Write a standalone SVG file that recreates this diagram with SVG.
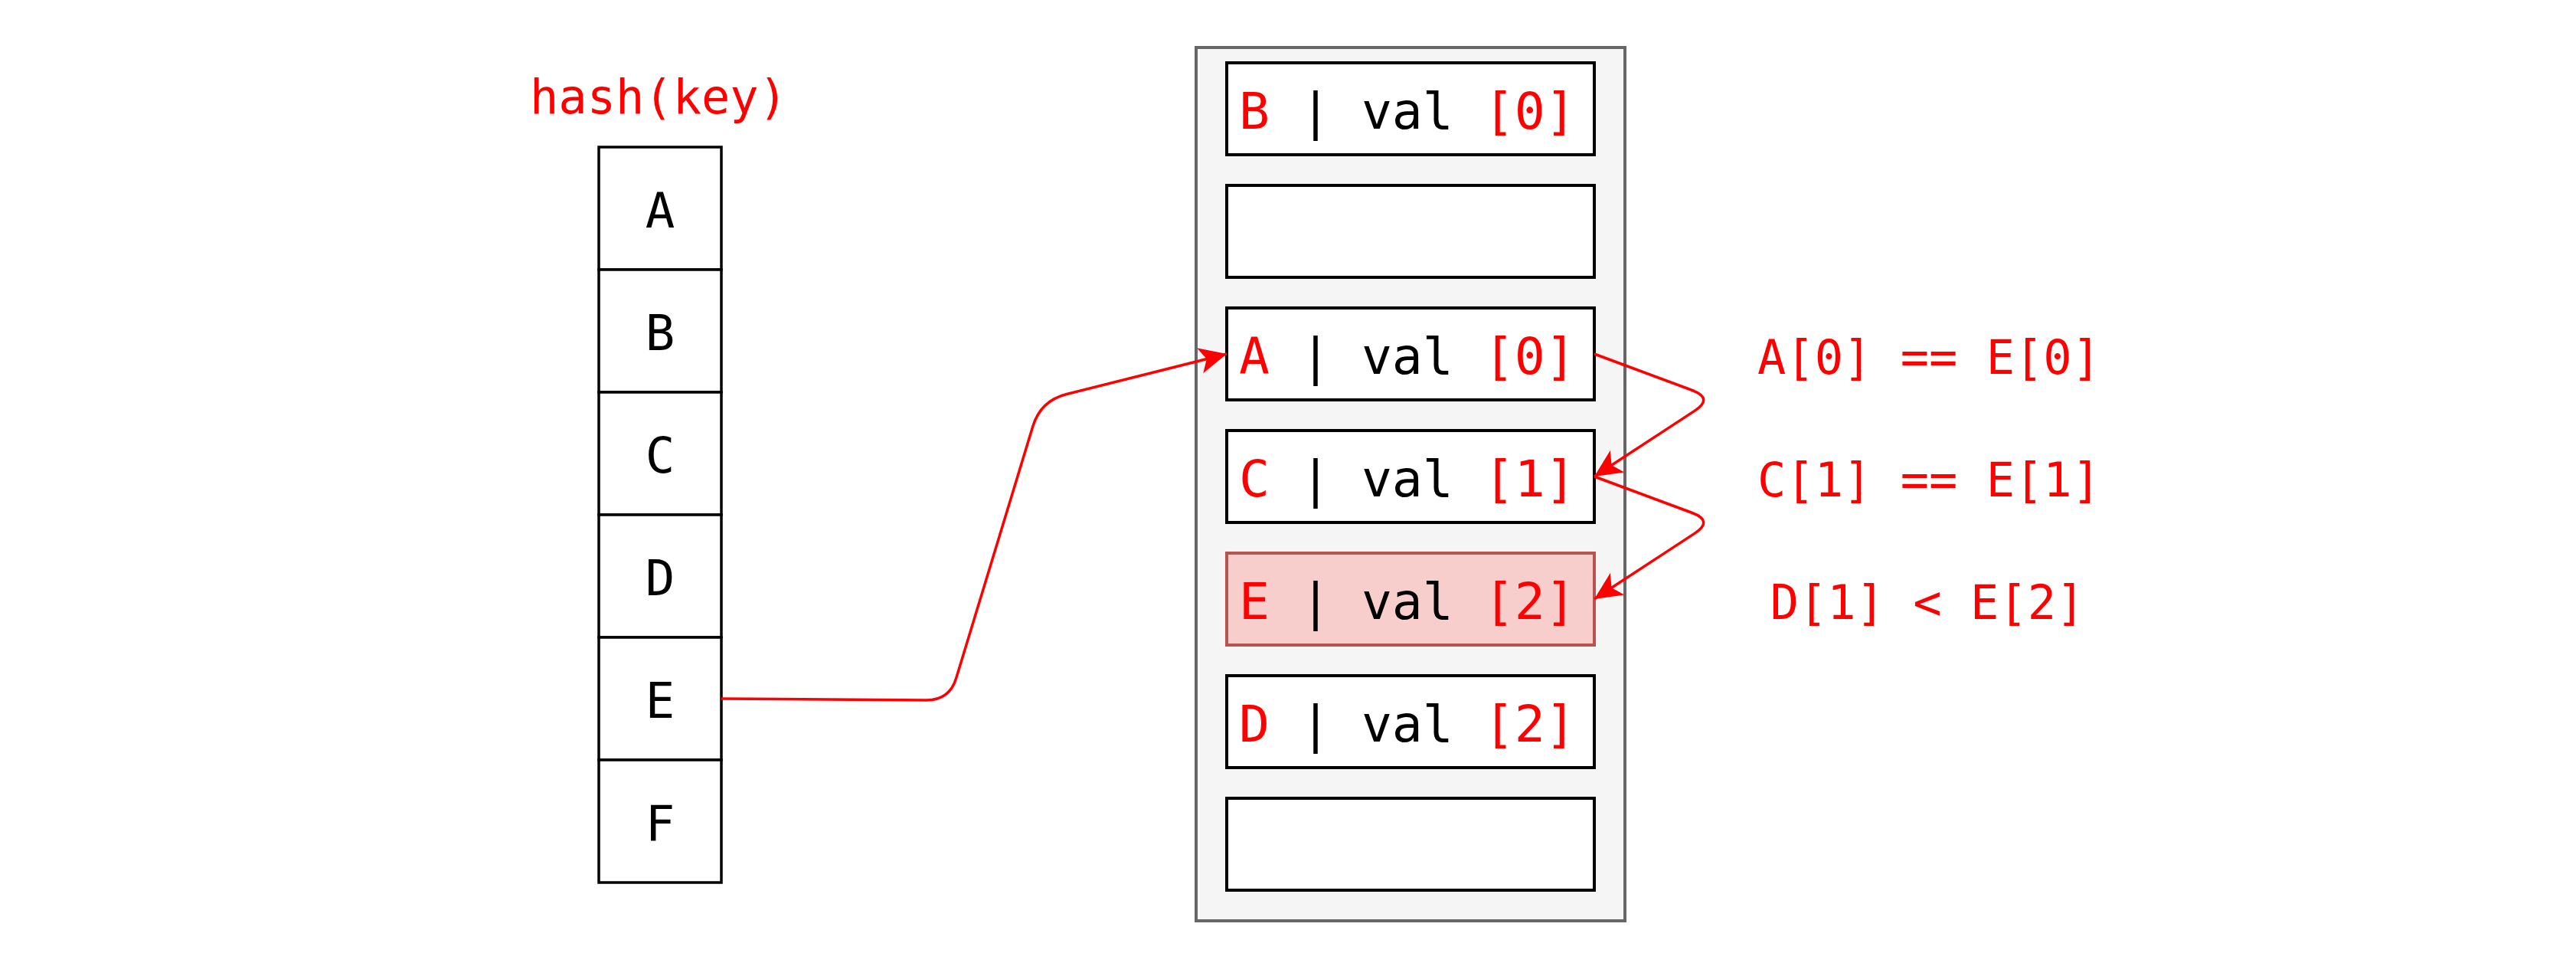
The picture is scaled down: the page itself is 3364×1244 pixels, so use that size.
<svg xmlns="http://www.w3.org/2000/svg" width="3364" height="1244" viewBox="0 0 3364 1244">
<style>
text{font-family:"DejaVu Sans Mono","Liberation Mono",monospace;white-space:pre}
.r{fill:#ff0000}
.k{fill:#000000}
.cell{fill:#ffffff;stroke:#000000;stroke-width:3.5}
.box{fill:#ffffff;stroke:#000000;stroke-width:4}
.hl{fill:#f8cecc;stroke:#b85450;stroke-width:4}
.bt{font-size:66.4px}
.ct{font-size:64px;text-anchor:middle}
.lt{font-size:62px;text-anchor:middle}
.edge{fill:none;stroke:#ff0000;stroke-width:3.5;stroke-linejoin:round}
</style>
<defs>
<marker id="arr" markerUnits="userSpaceOnUse" markerWidth="48" markerHeight="48" viewBox="-44 -24 48 48" refX="0" refY="0" orient="auto" overflow="visible">
<path d="M0,0 L-36,-17 L-27,0 L-36,17 Z" fill="#ff0000"/>
</marker>
</defs>
<rect width="3364" height="1244" fill="#ffffff"/>

<g id="hash-label"><text class="r lt" x="860" y="148">hash(key)</text></g>

<g id="hash-table">
<g id="cell-A"><rect class="cell" x="782" y="192" width="160" height="160"/><text class="k ct" x="862" y="297">A</text></g>
<g id="cell-B"><rect class="cell" x="782" y="352" width="160" height="160"/><text class="k ct" x="862" y="457">B</text></g>
<g id="cell-C"><rect class="cell" x="782" y="512" width="160" height="160"/><text class="k ct" x="862" y="617">C</text></g>
<g id="cell-D"><rect class="cell" x="782" y="672" width="160" height="160"/><text class="k ct" x="862" y="777">D</text></g>
<g id="cell-E"><rect class="cell" x="782" y="832" width="160" height="160"/><text class="k ct" x="862" y="937">E</text></g>
<g id="cell-F"><rect class="cell" x="782" y="992" width="160" height="160"/><text class="k ct" x="862" y="1097">F</text></g>
</g>

<g id="container"><rect x="1562" y="62" width="560" height="1140" fill="#f5f5f5" stroke="#666666" stroke-width="4"/></g>

<g id="slot-0"><rect class="box" x="1602" y="82" width="480" height="120"/><text class="bt k" x="1618" y="168"><tspan class="r">B</tspan> | val <tspan class="r">[0]</tspan></text></g>
<g id="slot-1"><rect class="box" x="1602" y="242" width="480" height="120"/></g>
<g id="slot-2"><rect class="box" x="1602" y="402" width="480" height="120"/><text class="bt k" x="1618" y="488"><tspan class="r">A</tspan> | val <tspan class="r">[0]</tspan></text></g>
<g id="slot-3"><rect class="box" x="1602" y="562" width="480" height="120"/><text class="bt k" x="1618" y="648"><tspan class="r">C</tspan> | val <tspan class="r">[1]</tspan></text></g>
<g id="slot-4"><rect class="hl" x="1602" y="722" width="480" height="120"/><text class="bt k" x="1618" y="808"><tspan class="r">E</tspan> | val <tspan class="r">[2]</tspan></text></g>
<g id="slot-5"><rect class="box" x="1602" y="882" width="480" height="120"/><text class="bt k" x="1618" y="968"><tspan class="r">D</tspan> | val <tspan class="r">[2]</tspan></text></g>
<g id="slot-6"><rect class="box" x="1602" y="1042" width="480" height="120"/></g>

<g id="labels">
<text class="r lt" x="2519" y="488">A[0] == E[0]</text>
<text class="r lt" x="2519" y="648">C[1] == E[1]</text>
<text class="r lt" x="2517" y="808">D[1] &lt; E[2]</text>
</g>

<g id="connectors">
<path class="edge" marker-end="url(#arr)" d="M942,912 L1210,914 Q1240,914 1248.7,885.3 L1348.8,556.5 Q1359,523 1393,514.5 L1602,462"/>
<path class="edge" marker-end="url(#arr)" d="M2082,462 L2209.9,509.5 Q2238,520 2212.9,536.4 L2082,622"/>
<path class="edge" marker-end="url(#arr)" d="M2082,622 L2209.9,669.5 Q2238,680 2212.9,696.4 L2082,782"/>
</g>
</svg>
